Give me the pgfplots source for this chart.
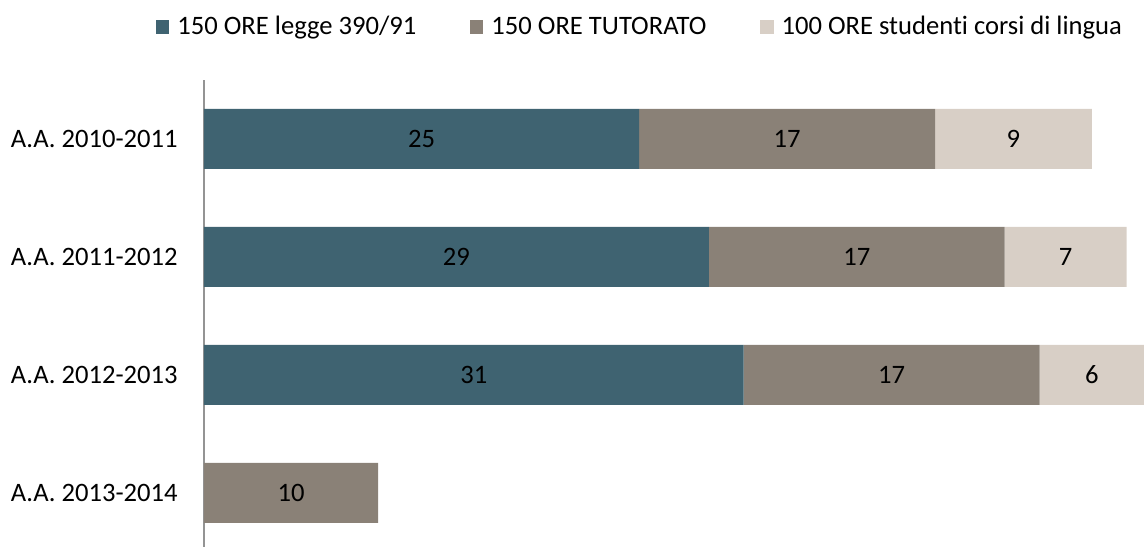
\documentclass[border=0pt]{standalone}
\usepackage{pgfplots}
\pgfplotsset{compat=1.18}
\usepackage{fontspec}
\setmainfont[Ligatures={NoCommon}]{Carlito}
\definecolor{cA}{RGB}{63,99,113}
\definecolor{cB}{RGB}{138,129,119}
\definecolor{cC}{RGB}{216,207,198}
\begin{document}
\begin{tikzpicture}
\pgfplotsset{common/.style={scale only axis, width=470pt, height=233.5pt,
  xmin=0, xmax=54, ymin=-0.5, ymax=3.46, y dir=reverse}}
\begin{axis}[common, xbar stacked, bar width=30pt,
  axis x line=none, axis y line*=left,
  y axis line style={color=black!42, line width=1pt},
  ytick={0,1,2,3},
  yticklabels={A.A. 2010-2011,A.A. 2011-2012,A.A. 2012-2013,A.A. 2013-2014},
  major tick length=0pt,
  yticklabel style={font=\fontsize{13.3}{15}\selectfont, text=black, inner sep=0pt, xshift=-13pt},
  legend columns=-1,
  legend style={at={(0.465,1.1135)}, anchor=center, draw=none, font=\fontsize{13.3}{15}\selectfont,
    /tikz/every odd column/.append style={column sep=2pt},
    /tikz/every even column/.append style={column sep=25pt}},
  legend image code/.code={\fill[#1] (0pt,-3.3pt) rectangle (6.6pt,3.3pt);},
]
\addplot[fill=cA, draw=none] coordinates {(25,0) (29,1) (31,2) (0,3)};
\addplot[fill=cB, draw=none] coordinates {(17,0) (17,1) (17,2) (10,3)};
\addplot[fill=cC, draw=none] coordinates {(9,0) (7,1) (6,2) (0,3)};
\legend{150 ORE legge 390/91, 150 ORE TUTORATO, 100 ORE studenti corsi di lingua}
\end{axis}
\begin{axis}[common, hide axis]
\addplot[draw=none, mark=none, nodes near coords, point meta=explicit symbolic,
  nodes near coords align={center},
  every node near coord/.append style={anchor=center, font=\fontsize{13.3}{15}\selectfont, text=black}]
  table[meta=lab] {
x y lab
12.5 0 25
33.5 0 17
46.5 0 9
14.5 1 29
37.5 1 17
49.5 1 7
15.5 2 31
39.5 2 17
51 2 6
5 3 10
};
\end{axis}
\pgfresetboundingbox
\path (-102pt,0pt) rectangle (470pt,273.5pt);
\end{tikzpicture}
\end{document}
